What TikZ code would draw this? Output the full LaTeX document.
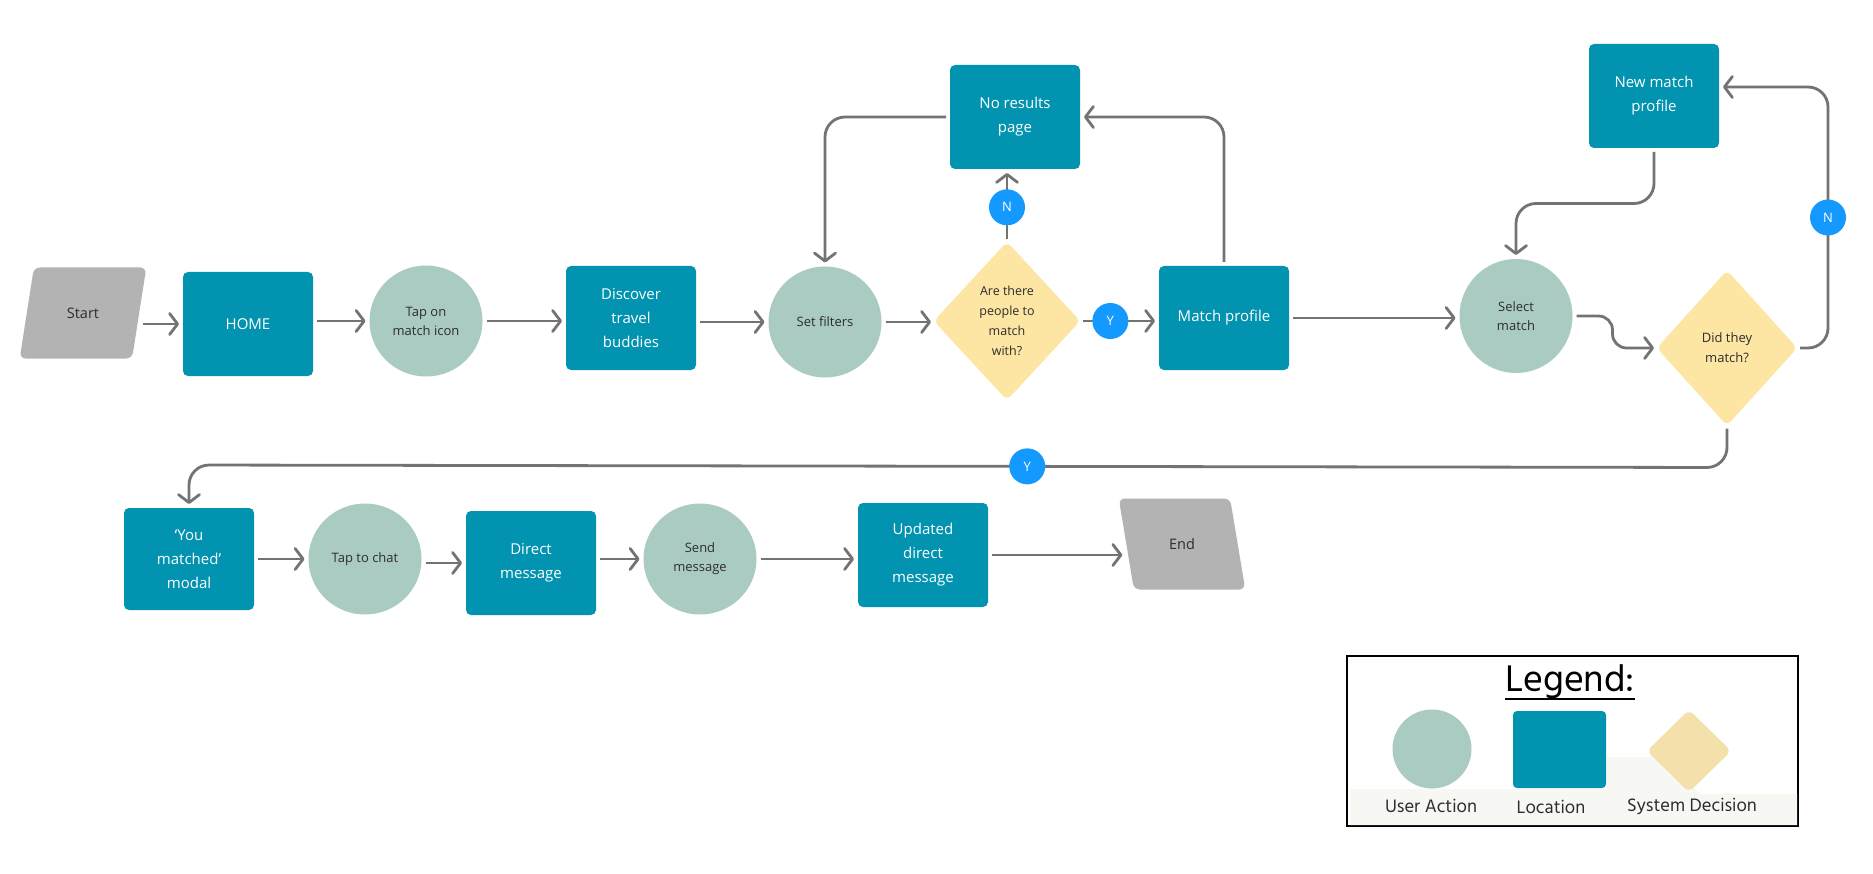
\documentclass[tikz,border=0pt]{standalone}
\usepackage{fontspec}
\setmainfont{Open Sans}
\newfontfamily\legendfont{Hind Madurai}
\usetikzlibrary{shapes.geometric, arrows.meta, positioning, calc}
\definecolor{locteal}{RGB}{1,147,175}
\definecolor{actgreen}{RGB}{170,203,194}
\definecolor{decyellow}{RGB}{253,230,163}
\definecolor{legyellow}{RGB}{243,224,170}
\definecolor{termgray}{RGB}{179,179,179}
\definecolor{badgeblue}{RGB}{20,153,255}
\definecolor{arrowgray}{RGB}{115,115,115}
\definecolor{txtdark}{RGB}{45,45,45}
\definecolor{legshade}{RGB}{247,247,244}
\tikzset{
  location/.style={rectangle, rounded corners=5pt, fill=locteal, text=white,
    minimum width=130pt, minimum height=104pt, align=center, outer sep=4pt,
    font=\fontsize{15}{24}\selectfont},
  useraction/.style={ellipse, fill=actgreen, text=txtdark, inner sep=0pt,
    minimum width=113pt, minimum height=111pt, align=center, outer sep=4pt,
    font=\fontsize{13}{19}\selectfont},
  decision/.style={diamond, rounded corners=6pt, fill=decyellow, text=txtdark,
    inner sep=0pt, minimum width=148pt, minimum height=160pt, align=center,
    outer sep=2pt, font=\fontsize{12.5}{20}\selectfont},
  terminal/.style={trapezium, trapezium stretches=true, rounded corners=6pt,
    fill=termgray, text=txtdark, minimum width=127pt, minimum height=91pt,
    outer sep=4pt, font=\fontsize{14.5}{20}\selectfont},
  badge/.style={circle, fill=badgeblue, text=white, minimum size=36pt,
    inner sep=0pt, font=\fontsize{13}{13}\selectfont},
  legendlabel/.style={font=\legendfont\fontsize{18.5}{20}\selectfont, text=txtdark},
  conn/.style={-{Straight Barb[length=8pt, width=21pt, round]}, line width=2.8pt,
    draw=arrowgray, rounded corners=20pt},
}

\begin{document}
\begin{tikzpicture}[x=1pt, y=-1pt]
  \fill[white] (0,0) rectangle (1873,874);
  \useasboundingbox (0,0) rectangle (1873,874);

  % first row
  \node[terminal, trapezium left angle=72, trapezium right angle=108] (start) at (83,313) {Start};
  \node[location] (home) at (248,324) {HOME};
  \node[useraction] (tap) at (426,321) {Tap on\\match icon};
  \node[location] (discover) at (631,318) {Discover\\travel\\buddies};
  \node[useraction] (filters) at (825,322) {Set filters};
  \node[decision] (arethere) at (1007,321) {Are there\\people to\\match\\with?};
  \node[location] (matchprof) at (1224,318) {Match profile};
  \node[location] (noresults) at (1015,117) {No results\\page};
  \node[useraction, minimum height=114pt] (select) at (1516,316) {Select\\match};
  \node[decision, minimum width=142pt, minimum height=157pt,
    font=\fontsize{13}{20}\selectfont] (didmatch) at (1727,348) {Did they\\match?};
  \node[location] (newmatch) at (1654,96) {New match\\profile};

  % second row
  \node[location, minimum height=102pt] (youmatched) at (189,559) {`You\\matched'\\modal};
  \node[useraction] (tapchat) at (365,559) {Tap to chat};
  \node[location] (direct) at (531,563) {Direct\\message};
  \node[useraction] (send) at (700,559) {Send\\message};
  \node[location] (updated) at (923,555) {Updated\\direct\\message};
  \node[terminal, trapezium left angle=106, trapezium right angle=74] (endnode) at (1182,544) {End};

  % connectors
  \draw[conn] (start.east |- home.west) -- (home.west);
  \draw[conn] (home.east |- tap.west) -- (tap.west);
  \draw[conn] (tap.east) -- (tap.east -| discover.west);
  \draw[conn] (discover.east |- filters.west) -- (filters.west);
  \draw[conn] (filters.east) -- (filters.east -| arethere.west);
  \draw[conn] (arethere.east) -- node[badge, pos=0.38] (ybadge) {Y} (arethere.east -| matchprof.west);
  \draw[conn] (arethere.north) -- node[badge, pos=0.48] (nbadge) {N} (arethere.north |- noresults.south);
  \draw[conn] (noresults.west) -| (filters.north);
  \draw[conn] (matchprof.north) |- (noresults.east);
  \draw[conn] (matchprof.east) -- (matchprof.east -| select.west);
  \draw[conn, rounded corners=14pt] (select.east) -- ++(36,0) |- (didmatch.west);
  \draw[conn] (didmatch.east) -| node[badge, pos=0.75] (nbadgetwo) {N}
    ($(newmatch.east)+(105,-9)$) -- ([yshift=9pt]newmatch.east);
  \draw[conn] (newmatch.south) |- ($(newmatch.south)!.5!(select.north)$) -| (select.north);
  \draw[conn] (didmatch.south) -- ++(0,39)
    -- node[badge, pos=0.455] (ybadgetwo) {Y} ($(youmatched.north)+(0,-39)$) -- (youmatched.north);
  \draw[conn] (youmatched.east) -- (youmatched.east -| tapchat.west);
  \draw[conn] (tapchat.east |- direct.west) -- (direct.west);
  \draw[conn] (direct.east |- send.west) -- (send.west);
  \draw[conn] (send.east) -- (send.east -| updated.west);
  \draw[conn] (updated.east) -- (updated.east -| endnode.west);

  % legend
  \node[draw=black, line width=1.3pt, minimum width=451pt, minimum height=170pt,
    inner sep=0pt] (legendbox) at (1572.5,741) {};
  \fill[legshade] (1350,789) -- (1607,789) -- (1607,757) -- (1660,757)
    -- (1700,794) -- (1797,794) -- (1797,825) -- (1350,825) -- cycle;
  \node[font=\legendfont\fontsize{38}{38}\selectfont, inner sep=0pt] (legendtitle)
    at (1570,682) {Legend:};
  \draw[line width=2.4pt] ([yshift=-7pt]legendtitle.base west) -- ([yshift=-7pt]legendtitle.base east);
  \node[useraction, minimum width=79pt, minimum height=79pt] (legact) at (1432,749) {};
  \node[location, minimum width=93pt, minimum height=77pt, rounded corners=4pt] (legloc) at (1559.5,749.5) {};
  \node[decision, fill=legyellow, minimum width=86pt, minimum height=84pt] (legdec) at (1689,751) {};
  \node[legendlabel] (legacttext) at (1431,806) {User Action};
  \node[legendlabel] (legloctext) at (1551,807) {Location};
  \node[legendlabel] (legdectext) at (1692,806) {System Decision};
\end{tikzpicture}
\end{document}
